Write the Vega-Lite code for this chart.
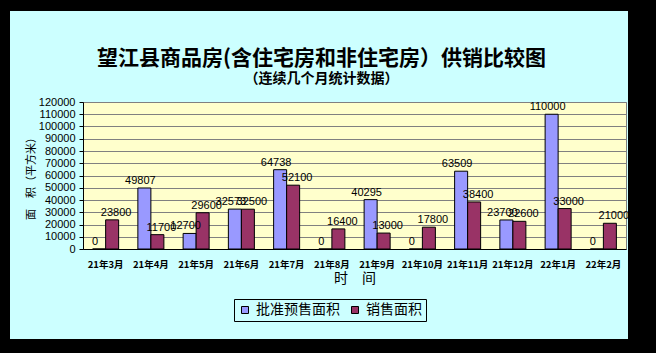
{
  "$schema": "https://vega.github.io/schema/vega-lite/v6.json",
  "background": "#CCFFFF",
  "padding": 0,
  "columns": 5,
  "spacing": 0,
  "bounds": "flush",
  "align": "each",
  "data": {
    "values": [
      {"month": "21年3月", "series": "批准预售面积", "value": 0},
      {"month": "21年3月", "series": "销售面积", "value": 23800},
      {"month": "21年4月", "series": "批准预售面积", "value": 49807},
      {"month": "21年4月", "series": "销售面积", "value": 11700},
      {"month": "21年5月", "series": "批准预售面积", "value": 12700},
      {"month": "21年5月", "series": "销售面积", "value": 29600},
      {"month": "21年6月", "series": "批准预售面积", "value": 32573},
      {"month": "21年6月", "series": "销售面积", "value": 32500},
      {"month": "21年7月", "series": "批准预售面积", "value": 64738},
      {"month": "21年7月", "series": "销售面积", "value": 52100},
      {"month": "21年8月", "series": "批准预售面积", "value": 0},
      {"month": "21年8月", "series": "销售面积", "value": 16400},
      {"month": "21年9月", "series": "批准预售面积", "value": 40295},
      {"month": "21年9月", "series": "销售面积", "value": 13000},
      {"month": "21年10月", "series": "批准预售面积", "value": 0},
      {"month": "21年10月", "series": "销售面积", "value": 17800},
      {"month": "21年11月", "series": "批准预售面积", "value": 63509},
      {"month": "21年11月", "series": "销售面积", "value": 38400},
      {"month": "21年12月", "series": "批准预售面积", "value": 23700},
      {"month": "21年12月", "series": "销售面积", "value": 22600},
      {"month": "22年1月", "series": "批准预售面积", "value": 110000},
      {"month": "22年1月", "series": "销售面积", "value": 33000},
      {"month": "22年2月", "series": "批准预售面积", "value": 0},
      {"month": "22年2月", "series": "销售面积", "value": 21000}
    ]
  },
  "concat": [
    {"width": 10, "height": 11, "view": {"fill": "black", "stroke": null}, "mark": {"type": "rect", "opacity": 0}, "encoding": {}},
    {"width": 73, "height": 11, "view": {"fill": "black", "stroke": null}, "mark": {"type": "rect", "opacity": 0}, "encoding": {}},
    {"width": 543, "height": 11, "view": {"fill": "black", "stroke": null}, "mark": {"type": "rect", "opacity": 0}, "encoding": {}},
    {"width": 2, "height": 11, "view": {"fill": "black", "stroke": null}, "mark": {"type": "rect", "opacity": 0}, "encoding": {}},
    {"width": 28, "height": 11, "view": {"fill": "black", "stroke": null}, "mark": {"type": "rect", "opacity": 0}, "encoding": {}},

    {"width": 10, "height": 91, "view": {"fill": "black", "stroke": null}, "mark": {"type": "rect", "opacity": 0}, "encoding": {}},
    {"width": 73, "height": 91, "view": {"fill": null, "stroke": null}, "mark": {"type": "rect", "opacity": 0}, "encoding": {}},
    {"width": 543, "height": 91, "view": {"fill": null, "stroke": null}, "mark": {"type": "rect", "opacity": 0}, "encoding": {}},
    {"width": 2, "height": 91, "view": {"fill": null, "stroke": null}, "mark": {"type": "rect", "opacity": 0}, "encoding": {}},
    {"width": 28, "height": 91, "view": {"fill": "black", "stroke": null}, "mark": {"type": "rect", "opacity": 0}, "encoding": {}},

    {"width": 10, "height": 147, "view": {"fill": "black", "stroke": null}, "mark": {"type": "rect", "opacity": 0}, "encoding": {}},
    {"width": 73, "height": 147, "view": {"fill": null, "stroke": null}, "mark": {"type": "rect", "opacity": 0}, "encoding": {}},
    {
      "width": 543,
      "height": 147,
      "view": {"fill": "#FFFFCC", "stroke": "#808080"},
      "title": {
        "text": "望江县商品房(含住宅房和非住宅房）供销比较图",
        "subtitle": "（连续几个月统计数据）",
        "anchor": "middle",
        "dx": -33,
        "offset": 10,
        "font": "Noto Sans CJK SC",
        "fontSize": 21,
        "fontWeight": "bold",
        "color": "black",
        "subtitleFont": "Noto Sans CJK SC",
        "subtitleFontSize": 14,
        "subtitleFontWeight": "bold",
        "subtitleColor": "black",
        "subtitlePadding": 3
      },
      "encoding": {
        "x": {
          "field": "month",
          "type": "nominal",
          "sort": null,
          "scale": {"paddingInner": 0.425, "paddingOuter": 0.2125},
          "axis": {
            "title": "时　间",
            "titleFont": "Noto Sans CJK SC",
            "titleFontSize": 14,
            "titleFontWeight": "normal",
            "titleColor": "black",
            "titlePadding": 3,
            "labelAngle": 0,
            "labelFont": "Noto Sans CJK SC",
            "labelFontSize": 9.5,
            "labelFontWeight": "bold",
            "labelColor": "black",
            "labelPadding": 10,
            "tickSize": 0,
            "domainColor": "black",
            "grid": false
          }
        },
        "xOffset": {
          "field": "series",
          "type": "nominal",
          "sort": ["批准预售面积", "销售面积"],
          "scale": {"paddingInner": 0, "paddingOuter": 0}
        },
        "y": {
          "field": "value",
          "type": "quantitative",
          "scale": {"domain": [0, 120000], "nice": false},
          "axis": {
            "title": "面　积（平方米）",
            "titleFont": "Noto Sans CJK SC",
            "titleFontSize": 11,
            "titleFontWeight": "normal",
            "titleColor": "black",
            "titlePadding": 2,
            "values": [0, 10000, 20000, 30000, 40000, 50000, 60000, 70000, 80000, 90000, 100000, 110000, 120000],
            "format": "d",
            "labelFont": "Liberation Sans",
            "labelFontSize": 11,
            "labelColor": "black",
            "labelPadding": 4,
            "tickSize": 4,
            "tickColor": "black",
            "domainColor": "black",
            "gridColor": "#808080",
            "gridOpacity": 1
          }
        }
      },
      "layer": [
        {
          "mark": {"type": "bar", "stroke": "black", "strokeWidth": 1},
          "encoding": {
            "color": {
              "field": "series",
              "type": "nominal",
              "scale": {"domain": ["批准预售面积", "销售面积"], "range": ["#9999FF", "#993366"]},
              "legend": {
                "orient": "none",
                "legendX": 234,
                "legendY": 299,
                "direction": "horizontal",
                "title": null,
                "labelFont": "Noto Sans CJK SC",
                "labelFontSize": 14,
                "labelColor": "black",
                "symbolType": "square",
                "symbolSize": 49,
                "symbolStrokeColor": "black",
                "symbolStrokeWidth": 1,
                "symbolOpacity": 1,
                "strokeColor": "black",
                "padding": 4,
                "columnPadding": 8,
                "labelOffset": 4
              }
            }
          }
        },
        {
          "transform": [{"filter": "datum.series === '批准预售面积'"}],
          "mark": {"type": "text", "baseline": "bottom", "dy": -2, "dx": -4, "font": "Liberation Sans", "fontSize": 11, "color": "black"},
          "encoding": {"text": {"field": "value", "type": "quantitative", "format": "d"}}
        },
        {
          "transform": [{"filter": "datum.series === '销售面积'"}],
          "mark": {"type": "text", "baseline": "bottom", "dy": -2, "dx": 4, "font": "Liberation Sans", "fontSize": 11, "color": "black"},
          "encoding": {"text": {"field": "value", "type": "quantitative", "format": "d"}}
        }
      ]
    },
    {"width": 2, "height": 147, "view": {"fill": null, "stroke": null}, "mark": {"type": "rect", "opacity": 0}, "encoding": {}},
    {"width": 28, "height": 147, "view": {"fill": "black", "stroke": null}, "mark": {"type": "rect", "opacity": 0}, "encoding": {}},

    {"width": 10, "height": 90, "view": {"fill": "black", "stroke": null}, "mark": {"type": "rect", "opacity": 0}, "encoding": {}},
    {"width": 73, "height": 90, "view": {"fill": null, "stroke": null}, "mark": {"type": "rect", "opacity": 0}, "encoding": {}},
    {"width": 543, "height": 90, "view": {"fill": null, "stroke": null}, "mark": {"type": "rect", "opacity": 0}, "encoding": {}},
    {"width": 2, "height": 90, "view": {"fill": null, "stroke": null}, "mark": {"type": "rect", "opacity": 0}, "encoding": {}},
    {"width": 28, "height": 90, "view": {"fill": "black", "stroke": null}, "mark": {"type": "rect", "opacity": 0}, "encoding": {}},

    {"width": 10, "height": 14, "view": {"fill": "black", "stroke": null}, "mark": {"type": "rect", "opacity": 0}, "encoding": {}},
    {"width": 73, "height": 14, "view": {"fill": "black", "stroke": null}, "mark": {"type": "rect", "opacity": 0}, "encoding": {}},
    {"width": 543, "height": 14, "view": {"fill": "black", "stroke": null}, "mark": {"type": "rect", "opacity": 0}, "encoding": {}},
    {"width": 2, "height": 14, "view": {"fill": "black", "stroke": null}, "mark": {"type": "rect", "opacity": 0}, "encoding": {}},
    {"width": 28, "height": 14, "view": {"fill": "black", "stroke": null}, "mark": {"type": "rect", "opacity": 0}, "encoding": {}}
  ],
  "config": {
    "view": {"stroke": null}
  }
}
